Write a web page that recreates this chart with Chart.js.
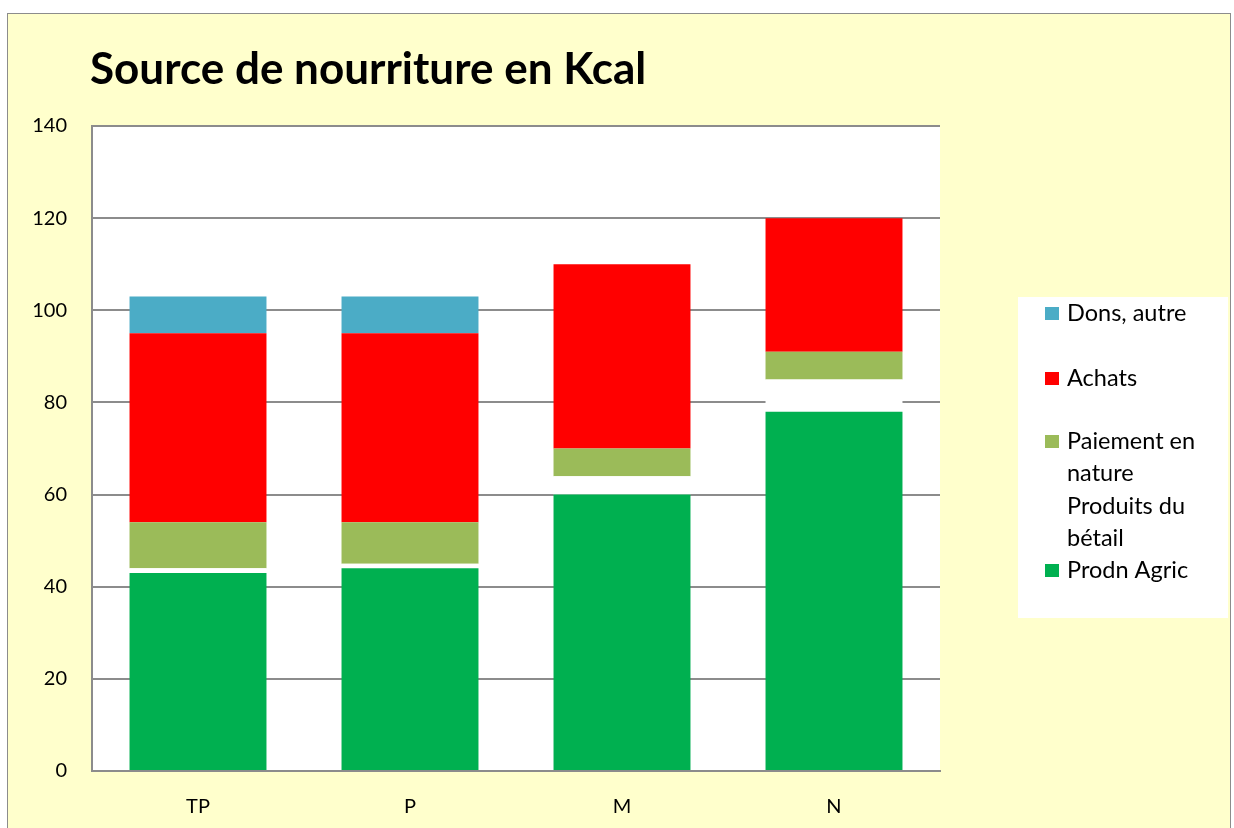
<!DOCTYPE html>
<html>
<head>
<meta charset="utf-8">
<script src="https://cdn.jsdelivr.net/npm/chart.js@4"></script>
<style>
  body { margin: 0; background: #fff; width: 1234px; height: 828px; overflow: hidden; position: relative; }
  #frame { position: absolute; left: 7px; top: 13px; width: 1222px; height: 830px; background: #ffffcc; border: 1px solid #8c8c8c; }
  #wrap { position: absolute; left: 0; top: 0; width: 1234px; height: 828px; }
</style>
</head>
<body>
<div id="frame"></div>
<div id="wrap"><canvas id="myChart" width="1234" height="828"></canvas></div>
<script>
// categories and series
const categories = ["TP", "P", "M", "N"];
const prodnAgric = [43, 44, 60, 78];
const produitsBetail = [1, 1, 4, 7];
const paiementNature = [10, 9, 6, 6];
const achats = [41, 41, 40, 29];
const dons = [8, 8, 0, 0];

const yTicks = [0, 20, 40, 60, 80, 100, 120, 140];

const fontName = "Lato, 'Open Sans', sans-serif";

// legend entries, top to bottom, with their lines of text
const legendItems = [
  { lines: ["Dons, autre"], color: "#4bacc6" },
  { lines: ["Achats"], color: "#ff0000" },
  { lines: ["Paiement en", "nature"], color: "#9bbb59" },
  { lines: ["Produits du", "bétail"], color: "#ffffff" },
  { lines: ["Prodn Agric"], color: "#00b050" }
];

// white plot background, title and legend box
const extras = {
  id: "extras",
  beforeDraw(chart) {
    const a = chart.chartArea;
    const ctx = chart.ctx;
    ctx.save();
    ctx.fillStyle = "#ffffff";
    ctx.fillRect(a.left, a.top, a.right - a.left, a.bottom - a.top);
    ctx.restore();
  },
  afterDraw(chart) {
    const ctx = chart.ctx;
    ctx.save();
    ctx.fillStyle = "#000";
    ctx.font = "bold 44px " + fontName;
    ctx.textBaseline = "middle";
    ctx.fillText("Source de nourriture en Kcal", 90, 70);

    // legend
    ctx.fillStyle = "#ffffff";
    ctx.fillRect(1018, 297, 210, 321);
    ctx.font = "23.5px " + fontName;
    let y = 313;
    const gaps = [65, 63, 65, 64];
    legendItems.forEach(function (item, i) {
      ctx.fillStyle = item.color;
      ctx.fillRect(1045, y - 6, 14, 13);
      ctx.fillStyle = "#000";
      item.lines.forEach(function (t, j) {
        ctx.fillText(t, 1067, y + j * 32);
      });
      y += gaps[i] || 0;
    });
    ctx.restore();
  }
};

new Chart(document.getElementById("myChart"), {
  type: "bar",
  data: {
    labels: categories,
    datasets: [
      { label: "Prodn Agric", data: prodnAgric, backgroundColor: "#00b050" },
      { label: "Produits du bétail", data: produitsBetail, backgroundColor: "#ffffff" },
      { label: "Paiement en nature", data: paiementNature, backgroundColor: "#9bbb59" },
      { label: "Achats", data: achats, backgroundColor: "#ff0000" },
      { label: "Dons, autre", data: dons, backgroundColor: "#4bacc6" }
    ]
  },
  options: {
    responsive: false,
    animation: false,
    devicePixelRatio: 1,
    layout: { padding: { left: 0, right: 294, top: 126, bottom: 0 } },
    datasets: { bar: { categoryPercentage: 1, barPercentage: 0.646 } },
    plugins: {
      legend: { display: false },
      title: { display: false },
      tooltip: { enabled: false }
    },
    scales: {
      x: {
        stacked: true,
        grid: { display: false, drawTicks: false },
        border: { color: "#8c8c8c", width: 2 },
        ticks: { color: "#000", font: { family: fontName, size: 20 }, padding: 24 },
        afterFit(s) { s.height = 57; }
      },
      y: {
        stacked: true,
        min: 0,
        max: 140,
        afterBuildTicks(s) { s.ticks = yTicks.map(function (v) { return { value: v }; }); },
        grid: { color: "#8c8c8c", lineWidth: 2, drawTicks: false },
        border: { color: "#8c8c8c", width: 2 },
        ticks: { color: "#000", font: { family: fontName, size: 20 }, padding: 25 },
        afterFit(s) { s.width = 92; }
      }
    }
  },
  plugins: [extras]
});
</script>
</body>
</html>
